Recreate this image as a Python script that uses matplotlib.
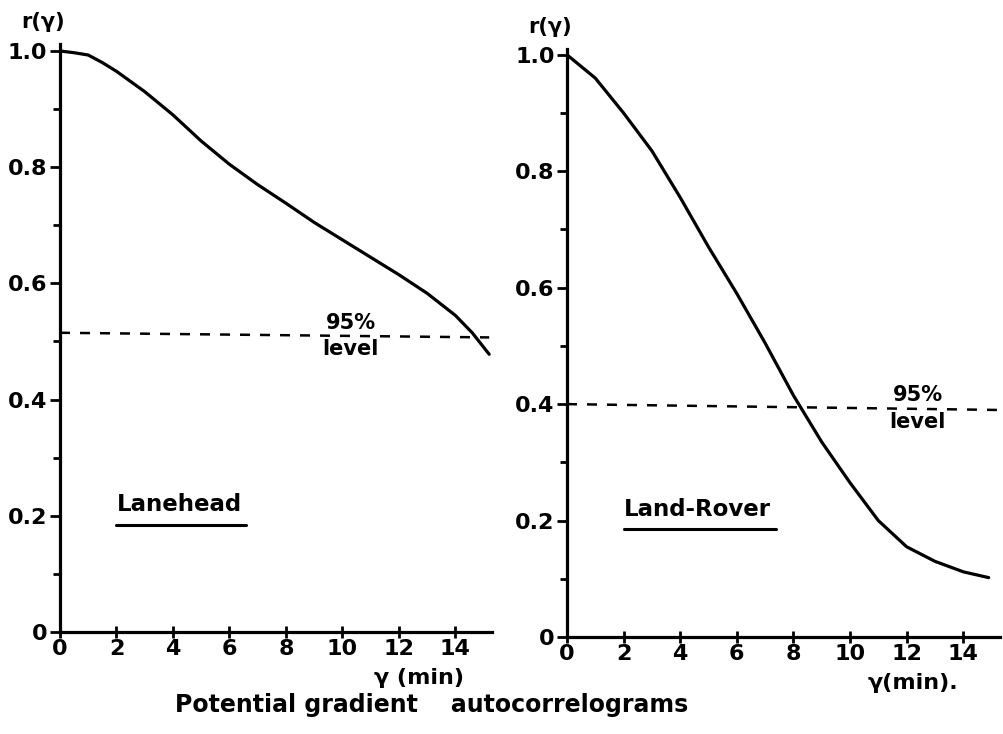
import matplotlib
matplotlib.use("Agg")
import matplotlib.pyplot as plt

# Lanehead autocorrelogram
lag_left = [0, 0.5, 1, 1.5, 2, 3, 4, 5, 6, 7, 8, 9, 10, 11, 12, 13, 14, 14.6, 15.2]
r_left = [1.0, 0.997, 0.993, 0.98, 0.965, 0.93, 0.89, 0.845, 0.805, 0.77, 0.738, 0.705, 0.675, 0.645, 0.615, 0.583, 0.545, 0.515, 0.478]
level_left = [0.515, 0.507]

# Land-Rover autocorrelogram
lag_right = [0, 0.5, 1, 2, 3, 4, 5, 6, 7, 8, 9, 10, 11, 12, 13, 14, 14.9]
r_right = [1.0, 0.98, 0.96, 0.9, 0.835, 0.755, 0.67, 0.59, 0.505, 0.415, 0.335, 0.265, 0.2, 0.155, 0.13, 0.112, 0.102]
level_right = [0.4, 0.39]

x_ticks = [0, 2, 4, 6, 8, 10, 12, 14]
y_ticks = [0, 0.2, 0.4, 0.6, 0.8, 1.0]
y_labels = ["0", "0.2", "0.4", "0.6", "0.8", "1.0"]

plt.rcParams["font.family"] = "DejaVu Sans"
plt.rcParams["font.weight"] = "bold"
plt.rcParams["lines.solid_joinstyle"] = "round"
plt.rcParams["lines.solid_capstyle"] = "round"

fig = plt.figure(figsize=(10.04, 7.34), dpi=100)
ax1 = fig.add_axes([60 / 1004, 102 / 734, 432 / 1004, 588 / 734])
ax2 = fig.add_axes([567 / 1004, 97 / 734, 433 / 1004, 588 / 734])

panels = [
    (ax1, lag_left, r_left, level_left, "Lanehead", (2.0, 0.2), 4.6, (10.3, 0.512), 1.012, "γ (min)", 0.83),
    (ax2, lag_right, r_right, level_right, "Land-Rover", (2.0, 0.2), 5.4, (12.4, 0.395), 1.01, "γ(min).", 0.8),
]

for ax, x, y, lvl, name, npos, ulen, lpos, ytop, xlab, xlx in panels:
    ax.plot(x, y, color="black", linewidth=2.3)
    ax.plot([0, 15.2], lvl, color="black", linewidth=1.8, linestyle=(0, (4, 4)))
    ax.set_xlim(0, 15.3)
    ax.set_ylim(0, ytop)
    for s in ["top", "right"]:
        ax.spines[s].set_visible(False)
    for s in ["left", "bottom"]:
        ax.spines[s].set_linewidth(2.3)
    ax.set_xticks(x_ticks)
    ax.set_yticks(y_ticks)
    ax.set_yticklabels(y_labels)
    ax.set_yticks([0.1, 0.3, 0.5, 0.7, 0.9], minor=True)
    ax.tick_params(axis="y", which="major", direction="out", length=7, width=2, labelsize=16, pad=2)
    ax.tick_params(axis="y", which="minor", direction="out", length=5, width=2)
    ax.tick_params(axis="x", which="major", direction="inout", length=8, width=2, labelsize=16, pad=1)
    ax.text(npos[0], npos[1], name, fontsize=16.5, fontweight="bold", ha="left", va="bottom")
    ax.plot([npos[0], npos[0] + ulen], [npos[1] - 0.015, npos[1] - 0.015], color="black", linewidth=2.2)
    ax.text(lpos[0], lpos[1] + 0.003, "95%", fontsize=15, fontweight="bold", ha="center", va="bottom")
    ax.text(lpos[0], lpos[1] - 0.008, "level", fontsize=15, fontweight="bold", ha="center", va="top")
    ax.text(-0.04, 1.02, "r(γ)", transform=ax.transAxes, fontsize=15, fontweight="bold", ha="center", va="bottom")
    ax.text(xlx, -0.062, xlab, transform=ax.transAxes, fontsize=16, fontweight="bold", ha="center", va="top")

fig.text(0.43, 0.04, "Potential gradient    autocorrelograms", fontsize=17, fontweight="bold", ha="center", va="center")

fig.savefig("out.png", dpi=100)
